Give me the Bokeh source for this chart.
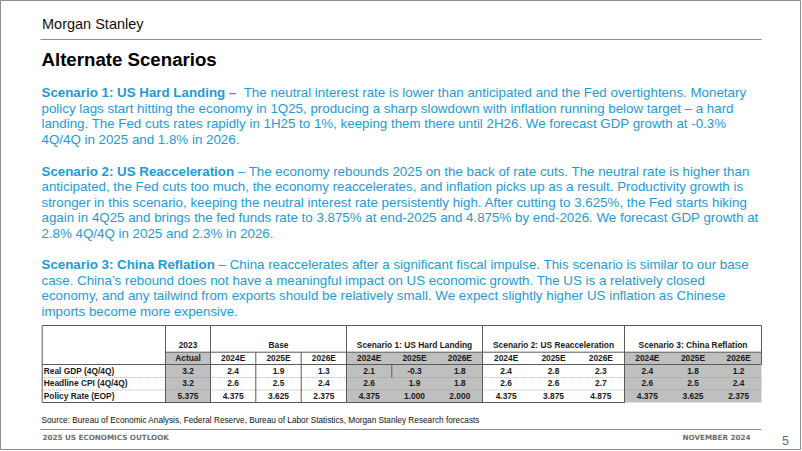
from bokeh.plotting import figure
from bokeh.models import Range1d
from bokeh.core.properties import value
from bokeh.embed import file_html
from bokeh.resources import INLINE

# ---------------- data ----------------
brand = "Morgan Stanley"
title = "Alternate Scenarios"

s1_head = "Scenario 1: US Hard Landing \u2013"
s1_lines = [
    "  The neutral interest rate is lower than anticipated and the Fed overtightens. Monetary",
    "policy lags start hitting the economy in 1Q25, producing a sharp slowdown with inflation running below target \u2013  a hard",
    "landing. The Fed cuts rates rapidly in 1H25 to 1%, keeping them there until 2H26. We forecast GDP growth at -0.3%",
    "4Q/4Q in 2025 and 1.8% in 2026.",
]
s2_head = "Scenario 2: US Reacceleration"
s2_lines = [
    " \u2013  The economy rebounds  2025 on the back of rate cuts. The neutral rate is higher than",
    "anticipated, the Fed cuts too much, the economy reaccelerates, and inflation picks up as a result. Productivity growth is",
    "stronger in this scenario, keeping the neutral interest rate persistently high. After cutting to 3.625%, the Fed starts hiking",
    "again in 4Q25 and brings the fed funds rate to 3.875% at end-2025 and 4.875% by end-2026. We forecast GDP growth at",
    "2.8% 4Q/4Q in 2025 and 2.3% in 2026.",
]
s3_head = "Scenario 3: China Reflation"
s3_lines = [
    " \u2013 China reaccelerates after a significant fiscal impulse. This scenario is similar to our base",
    "case.  China\u2019s rebound does not have a meaningful impact on US economic growth. The US  is  a relatively closed",
    "economy, and any tailwind  from exports should be relatively small. We expect slightly higher US inflation as Chinese",
    "imports become more expensive.",
]

row_labels = ["Real GDP (4Q/4Q)", "Headline CPI (4Q/4Q)", "Policy Rate (EOP)"]
row_decimals = [1, 1, 3]
group_names = ["2023", "Base", "Scenario 1: US Hard Landing",
               "Scenario 2: US Reacceleration", "Scenario 3: China Reflation"]
group_years = [["Actual"], ["2024E", "2025E", "2026E"], ["2024E", "2025E", "2026E"],
               ["2024E", "2025E", "2026E"], ["2024E", "2025E", "2026E"]]
actual_2023 = [[3.2], [3.2], [5.375]]
base = [[2.4, 1.9, 1.3], [2.6, 2.5, 2.4], [4.375, 3.625, 2.375]]
hard_landing = [[2.1, -0.3, 1.8], [2.6, 1.9, 1.8], [4.375, 1.000, 2.000]]
reacceleration = [[2.4, 2.8, 2.3], [2.6, 2.6, 2.7], [4.375, 3.875, 4.875]]
china_reflation = [[2.4, 1.8, 1.2], [2.6, 2.5, 2.4], [4.375, 3.625, 2.375]]
group_values = [actual_2023, base, hard_landing, reacceleration, china_reflation]
group_shaded = [True, False, True, False, True]

source = "Source: Bureau of Economic Analysis, Federal Reserve, Bureau of Labor Statistics, Morgan Stanley Research forecasts"
footer_left = "2025 US ECONOMICS OUTLOOK"
footer_right = "NOVEMBER 2024"
page_no = "5"

# ---------------- styles / layout ----------------
FONT = "Liberation Sans"
BLUE = "#1d9bd8"
GRAY_FILL = "#bfbfbf"
BORDER = "#5a5a5a"
TXT = "#1a1a1a"
SHIFT = 0.4  # em correction of the rendered baseline

BOLD_W = {' ': 278, '0': 556, '1': 556, '2': 556, '3': 556, ':': 333, '\u2013': 556,
          'S': 667, 'U': 722, 'H': 722, 'L': 611, 'R': 722, 'C': 722,
          'a': 556, 'c': 556, 'd': 611, 'e': 556, 'f': 333, 'g': 611, 'h': 611,
          'i': 278, 'l': 278, 'n': 611, 'o': 611, 'r': 389, 't': 333}


def bold_width(s, fs):
    return sum(BOLD_W.get(ch, 580) for ch in s) / 1000.0 * fs


W, H = 801, 450
p = figure(width=W, height=H, x_range=Range1d(0, W), y_range=Range1d(H, 0),
           output_backend="svg", toolbar_location=None, min_border=0,
           x_axis_location=None, y_axis_location=None)
p.grid.visible = False
p.outline_line_color = "#8c8c8c"
p.background_fill_color = "white"
p.border_fill_color = "white"

X0 = 41.0


def txt(x, y, s, fs, color, style="normal", align="left", font=FONT):
    p.text(x=[x], y=[y - SHIFT * fs], text=[s], text_font=value(font),
           text_font_size=f"{fs}px", text_color=color, text_font_style=style,
           text_align=align, text_baseline="alphabetic")


# header
txt(X0 + 0.5, 29.3, brand, 14.5, "#111111")
p.segment(x0=[40], y0=[39], x1=[761], y1=[39], line_color="#8c8c8c", line_width=1)
txt(X0, 66.7, title, 18.67, "#000000", style="bold")

# paragraphs
FS = 13.33
LH = 15.5
para_starts = [97.5, 176.0, 269.5]
for head, lines, y0 in zip([s1_head, s2_head, s3_head], [s1_lines, s2_lines, s3_lines], para_starts):
    txt(X0, y0, head, FS, BLUE, style="bold")
    first = lines[0]
    lead = len(first) - len(first.lstrip(' '))
    xr = X0 + bold_width(head, FS) + lead * 0.278 * FS
    txt(xr, y0, first.lstrip(' '), FS, BLUE)
    for k, line in enumerate(lines[1:], start=1):
        txt(X0, y0 + k * LH, line, FS, BLUE)

# table geometry
col_edges = [41.7, 165, 210, 255.3, 300.7, 346, 391.3, 436.7, 482, 529.3, 576.7, 624, 669.7, 715.3, 761]
row_edges = [325, 351.7, 364, 377, 389.5, 402]
TFS = 8.4

# shaded fills
ci = 1
group_cols = []
for g, yrs in enumerate(group_years):
    cols = list(range(ci, ci + len(yrs)))
    group_cols.append(cols)
    ci += len(yrs)
for g, cols in enumerate(group_cols):
    if group_shaded[g]:
        p.quad(left=[col_edges[cols[0]]], right=[col_edges[cols[-1] + 1]],
               top=[row_edges[1]], bottom=[row_edges[5]],
               fill_color=GRAY_FILL, line_color=None)

# dotted row separators
for r in (3, 4):
    p.segment(x0=[col_edges[0]], y0=[row_edges[r]], x1=[col_edges[-1]], y1=[row_edges[r]],
              line_color="#9a9a9a", line_width=0.8, line_dash="1 1")

# borders
segs = [
    (col_edges[0], row_edges[0], col_edges[-1], row_edges[0]),
    (col_edges[0], row_edges[0], col_edges[0], row_edges[5]),
    (col_edges[0], row_edges[5], col_edges[11], row_edges[5]),
    (col_edges[-1], row_edges[0], col_edges[-1], row_edges[2]),
    (col_edges[1], row_edges[1], col_edges[-1], row_edges[1]),
    (col_edges[0], row_edges[2], col_edges[-1], row_edges[2]),
    (col_edges[3], row_edges[1], col_edges[3], row_edges[5]),
    (col_edges[4], row_edges[1], col_edges[4], row_edges[5]),
    (col_edges[6], row_edges[2], col_edges[6], row_edges[3]),
]
for g, cols in enumerate(group_cols):
    segs.append((col_edges[cols[0]], row_edges[0], col_edges[cols[0]], row_edges[5]))
segs.append((col_edges[11], row_edges[0], col_edges[11], row_edges[5]))
p.segment(x0=[s[0] for s in segs], y0=[s[1] for s in segs],
          x1=[s[2] for s in segs], y1=[s[3] for s in segs],
          line_color=BORDER, line_width=1)

# header texts
for g, cols in enumerate(group_cols):
    cx = (col_edges[cols[0]] + col_edges[cols[-1] + 1]) / 2
    txt(cx, 348.2, group_names[g], TFS, TXT, style="bold", align="center")
    for j, c in enumerate(cols):
        cxx = (col_edges[c] + col_edges[c + 1]) / 2
        txt(cxx, 360.8, group_years[g][j], TFS, TXT, style="bold", align="center")

# row labels and values
for r, lab in enumerate(row_labels):
    yb = (row_edges[r + 2] + row_edges[r + 3]) / 2 + 3.0
    txt(col_edges[0] + 1.5, yb, lab, TFS, TXT, style="bold")
    for g, cols in enumerate(group_cols):
        for j, c in enumerate(cols):
            v = group_values[g][r][j]
            cxx = (col_edges[c] + col_edges[c + 1]) / 2
            txt(cxx, yb, f"{v:.{row_decimals[r]}f}", TFS, TXT, style="bold", align="center")

# footer
txt(X0, 423, source, 8.25, "#111111")
p.segment(x0=[40], y0=[429], x1=[761], y1=[429], line_color="#8c8c8c", line_width=1)
txt(X0 + 1, 439.5, footer_left, 7.2, "#6e6e6e", style="bold", font="DejaVu Sans")
txt(750, 440, footer_right, 7.2, "#6e6e6e", style="bold", align="right", font="DejaVu Sans")
txt(785, 444.5, page_no, 12.5, "#6e6e6e", align="center")

open("out.html", "w").write(file_html(p, INLINE))
